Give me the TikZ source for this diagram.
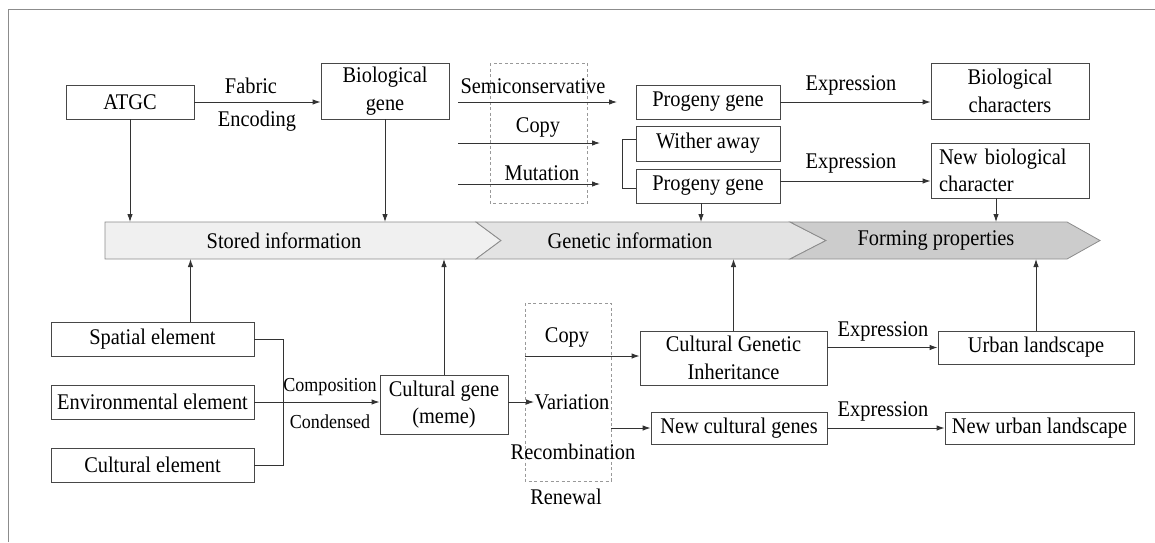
\documentclass[tikz,border=0pt]{standalone}
\usepackage{fontspec}
\setmainfont{Liberation Serif}
\newfontfamily\tnrfont[FakeStretch=0.91]{Liberation Serif}
\usetikzlibrary{arrows.meta}
\newcommand\fsmain{\tnrfont\fontsize{22.4}{27.5}\selectfont}
\newcommand\fssmall{\tnrfont\fontsize{19.8}{21}\selectfont}
\begin{document}
\begin{tikzpicture}[x=1pt,y=-1pt,
  box/.style={draw=black!72, line width=0.9pt, inner sep=0pt, align=center, font=\fsmain},
  lbl/.style={inner sep=0pt, font=\fsmain},
  slbl/.style={inner sep=0pt, font=\fssmall},
  arr/.style={draw=black!80, line width=0.9pt, -{Latex[length=8pt,width=5.5pt]}},
  ln/.style={draw=black!80, line width=0.9pt},
  dbox/.style={draw=black!40, line width=0.8pt, dash pattern=on 3pt off 2.5pt},
  chev/.style={draw=black!45, line width=0.8pt}]
\useasboundingbox (0,0) rectangle (1155,542);
\draw[black!45, line width=1pt] (8,542) -- (8,9) -- (1155,9);

% bar
\draw[chev, fill=black!6] (105,222) -- (476,222) -- (501,240.5) -- (476,259) -- (105,259) -- cycle;
\draw[chev, fill=black!11] (476,222) -- (790,222) -- (826,240.5) -- (790,259) -- (476,259) -- (501,240.5) -- cycle;
\draw[chev, fill=black!20] (790,222) -- (1067,222) -- (1100,240.5) -- (1067,259) -- (790,259) -- (826,240.5) -- cycle;
\node[lbl] (stored) at (284,240.5) {Stored information};
\node[lbl] (genetic) at (630,240.5) {Genetic information};
\node[lbl] (forming) at (936,240.5) {Forming properties};
\coordinate (bartop) at (0,222);
\coordinate (barbot) at (0,259);

% top row
\node[box, minimum width=128pt, minimum height=34pt] (atgc) at (130,102) {ATGC};
\node[box, minimum width=128pt, minimum height=56pt] (biogene) at (385,91) {Biological\\gene};
\node[lbl] (fabric) at (251,86) {Fabric};
\node[lbl] (encoding) at (257,121) {Encoding};
\draw[arr] (atgc) -- (biogene.west |- atgc);

\draw[dbox] (490,63) rectangle (587,203);
\node[lbl] (semi) at (533,86) {Semiconservative};
\node[lbl] (copyt) at (538,127) {Copy};
\node[lbl] (mutation) at (542,173) {Mutation};
\coordinate (s1) at (458,102); \coordinate (e1) at (617,102);
\coordinate (s2) at (458,143); \coordinate (e2) at (600,143);
\coordinate (s3) at (458,184); \coordinate (e3) at (600,184);
\draw[arr] (s1) -- (e1);
\draw[arr] (s2) -- (e2);
\draw[arr] (s3) -- (e3);

\node[box, minimum width=144pt, minimum height=34pt] (prog1) at (708,102) {Progeny gene};
\node[box, minimum width=144pt, minimum height=35pt] (wither) at (708,143.5) {Wither away};
\node[box, minimum width=144pt, minimum height=34pt] (prog2) at (708,186) {Progeny gene};
\coordinate (brk) at (622,0);
\draw[ln] (wither.west |- 0,139) -- (brk |- 0,139) -- (brk |- 0,188) -- (prog2.west |- 0,188);

\node[box, minimum width=158pt, minimum height=56pt] (biochar) at (1010,91) {Biological\\characters};
\node[box, minimum height=55pt, align=left, text width=142pt, inner xsep=8pt] (newbio) at (1010,170.5) {New biological\\character};
\node[lbl] (expr1) at (851,85) {Expression};
\node[lbl] (expr2) at (851,163) {Expression};
\draw[arr] (prog1) -- (biochar.west |- prog1);
\draw[arr] (prog2.east |- 0,181) -- (newbio.west |- 0,181);

\draw[arr] (atgc) -- (atgc |- bartop);
\draw[arr] (biogene) -- (biogene |- bartop);
\draw[arr] ([xshift=-7pt]prog2.south) -- ([xshift=-7pt]prog2.south |- bartop);
\draw[arr] ([xshift=-14pt]newbio.south) -- ([xshift=-14pt]newbio.south |- bartop);

% bottom row
\node[box, minimum width=203pt, minimum height=34pt] (spatial) at (152.5,339) {Spatial element};
\node[box, minimum width=203pt, minimum height=34pt] (env) at (152.5,402) {Environmental element};
\node[box, minimum width=203pt, minimum height=34pt] (cult) at (152.5,465) {Cultural element};
\coordinate (brk2) at (283,0);
\draw[ln] (spatial.east) -- (brk2 |- spatial.east) -- (brk2 |- cult.east) -- (cult.east);
\node[box, minimum width=128pt, minimum height=59pt] (cgene) at (444,404.5) {Cultural gene\\(meme)};
\draw[arr] (env) -- (cgene.west |- env);
\node[slbl] (compo) at (330,387) {Composition};
\node[slbl] (conden) at (330,422) {Condensed};

\draw[arr] ([xshift=38pt]spatial.north) -- ([xshift=38pt]spatial.north |- barbot);
\draw[arr] (cgene) -- (cgene |- barbot);

\draw[dbox] (525,303) rectangle (611,481);
\node[lbl] (copyb) at (567,337) {Copy};
\node[lbl] (variation) at (572,402) {Variation};
\node[lbl] (recomb) at (573,452) {Recombination};
\node[lbl] (renewal) at (566,497) {Renewal};
\coordinate (v1) at (534,402);
\draw[arr] (cgene.east |- v1) -- (v1);

\node[box, minimum width=187pt, minimum height=54pt] (cgi) at (733.5,358) {Cultural Genetic\\Inheritance};
\node[box, minimum width=176pt, minimum height=32pt] (newcg) at (739,428) {New cultural genes};
\coordinate (c1) at (525,356);
\coordinate (c2) at (611,428);
\draw[arr] (c1) -- (cgi.west |- c1);
\draw[arr] (c2) -- (newcg.west |- c2);

\node[box, minimum width=196pt, minimum height=33pt] (urban) at (1036,347.5) {Urban landscape};
\node[box, minimum width=189pt, minimum height=32pt] (newurban) at (1039.5,428) {New urban landscape};
\node[lbl] (expr3) at (883,331) {Expression};
\node[lbl] (expr4) at (883,411) {Expression};
\draw[arr] (cgi.east |- urban) -- (urban.west);
\draw[arr] (newcg) -- (newurban);

\draw[arr] (cgi) -- (cgi |- barbot);
\draw[arr] (urban) -- (urban |- barbot);
\end{tikzpicture}
\end{document}
